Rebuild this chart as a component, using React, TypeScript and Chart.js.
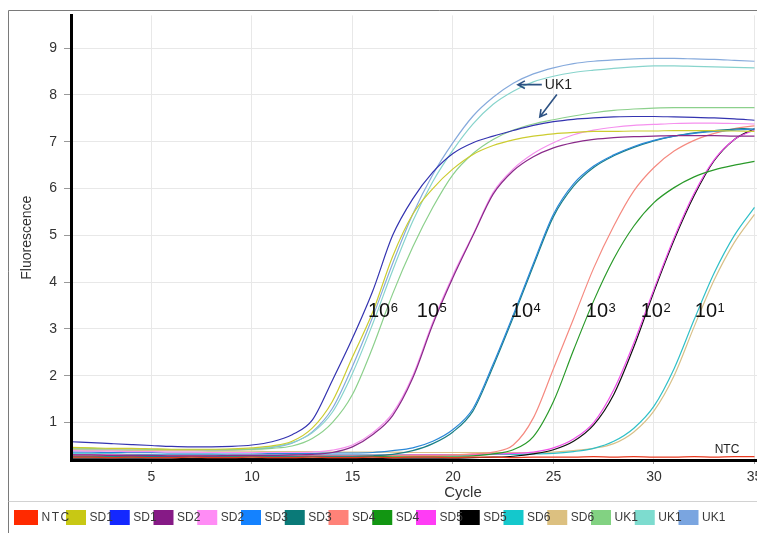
import React, { useEffect, useRef } from "react";
import { Chart, registerables } from "chart.js";

Chart.register(...registerables);
Chart.defaults.font.family = '"Liberation Sans", Arial, sans-serif';

// ---- data ----
const cycles = [1,2,3,4,5,6,7,8,9,10,11,12,13,14,15,16,17,18,19,20,21,22,23,24,25,26,27,28,29,30,31,32,33,34,35];

const ntc = [0.26,0.26,0.25,0.26,0.25,0.25,0.26,0.25,0.25,0.26,0.25,0.25,0.26,0.25,0.25,0.26,0.25,0.26,0.26,0.25,0.26,0.26,0.25,0.26,0.26,0.26,0.27,0.26,0.27,0.26,0.26,0.27,0.26,0.27,0.27];
const sd1Yellow = [0.47,0.46,0.45,0.45,0.44,0.43,0.43,0.43,0.44,0.46,0.5,0.6,0.88,1.45,2.4,3.35,4.55,5.45,6.0,6.42,6.73,6.92,7.04,7.12,7.17,7.2,7.22,7.22,7.23,7.23,7.24,7.24,7.24,7.23,7.22];
const sd1Blue = [0.59,0.57,0.55,0.53,0.51,0.49,0.48,0.48,0.49,0.52,0.59,0.74,1.05,1.9,2.8,3.8,5.0,5.78,6.35,6.75,6.98,7.12,7.24,7.35,7.43,7.48,7.51,7.53,7.54,7.54,7.53,7.52,7.51,7.49,7.46];
const sd2Purple = [0.31,0.31,0.3,0.3,0.3,0.29,0.29,0.29,0.3,0.3,0.3,0.31,0.32,0.36,0.48,0.74,1.15,1.95,3.1,4.1,5.0,5.88,6.38,6.68,6.87,6.98,7.05,7.09,7.11,7.12,7.13,7.13,7.13,7.12,7.12];
const sd2Pink = [0.4,0.39,0.39,0.38,0.38,0.37,0.37,0.36,0.36,0.36,0.36,0.36,0.37,0.41,0.52,0.78,1.2,2.0,3.15,4.15,5.02,5.92,6.42,6.75,6.98,7.15,7.25,7.31,7.35,7.37,7.39,7.4,7.4,7.39,7.38];
const sd3Azure = [0.37,0.37,0.36,0.36,0.36,0.35,0.35,0.35,0.35,0.35,0.34,0.34,0.34,0.35,0.35,0.36,0.4,0.46,0.6,0.85,1.3,2.25,3.3,4.4,5.45,6.1,6.48,6.72,6.9,7.03,7.12,7.18,7.22,7.25,7.27];
const sd3Teal = [0.28,0.28,0.28,0.27,0.27,0.27,0.27,0.28,0.28,0.28,0.28,0.28,0.28,0.28,0.28,0.29,0.32,0.4,0.55,0.8,1.25,2.2,3.25,4.35,5.4,6.05,6.45,6.7,6.88,7.02,7.12,7.19,7.24,7.27,7.3];
const sd4Salmon = [0.3,0.3,0.3,0.3,0.29,0.29,0.29,0.29,0.29,0.29,0.29,0.29,0.29,0.29,0.29,0.3,0.3,0.3,0.3,0.31,0.33,0.37,0.52,1.1,2.15,3.22,4.3,5.2,5.95,6.45,6.8,7.03,7.18,7.28,7.34];
const sd4Green = [0.28,0.28,0.28,0.28,0.28,0.27,0.27,0.27,0.27,0.27,0.27,0.27,0.27,0.27,0.27,0.27,0.28,0.28,0.28,0.28,0.29,0.33,0.42,0.7,1.45,2.55,3.6,4.5,5.2,5.7,6.02,6.25,6.4,6.5,6.58];
const sd5Magenta = [0.31,0.31,0.31,0.3,0.3,0.3,0.3,0.3,0.3,0.3,0.3,0.3,0.3,0.3,0.3,0.3,0.3,0.31,0.31,0.31,0.32,0.33,0.34,0.37,0.46,0.65,1.0,1.7,2.7,3.85,4.95,5.9,6.62,7.05,7.25];
const sd5Black = [0.24,0.24,0.24,0.24,0.24,0.24,0.23,0.23,0.23,0.23,0.23,0.23,0.23,0.23,0.23,0.23,0.24,0.24,0.24,0.24,0.25,0.26,0.28,0.33,0.42,0.6,0.95,1.6,2.62,3.8,4.9,5.85,6.6,7.05,7.28];
const sd6Cyan = [0.33,0.33,0.33,0.32,0.32,0.32,0.32,0.32,0.31,0.31,0.31,0.31,0.31,0.31,0.31,0.31,0.31,0.31,0.31,0.31,0.31,0.32,0.32,0.33,0.34,0.38,0.45,0.6,0.88,1.35,2.15,3.2,4.2,5.0,5.6];
const sd6Tan = [0.42,0.41,0.41,0.41,0.4,0.4,0.4,0.39,0.39,0.39,0.38,0.38,0.38,0.37,0.37,0.37,0.37,0.36,0.36,0.36,0.36,0.36,0.36,0.36,0.37,0.4,0.45,0.55,0.8,1.25,2.0,3.05,4.05,4.85,5.45];
const uk1Green = [0.46,0.45,0.44,0.44,0.43,0.42,0.42,0.42,0.42,0.43,0.45,0.5,0.66,1.0,1.6,2.6,3.75,4.75,5.6,6.3,6.75,7.05,7.25,7.38,7.47,7.55,7.62,7.67,7.7,7.72,7.73,7.73,7.73,7.73,7.73];
const uk1Teal = [0.44,0.43,0.43,0.42,0.42,0.41,0.41,0.41,0.42,0.44,0.48,0.57,0.78,1.22,2.05,3.1,4.25,5.3,6.15,6.82,7.38,7.8,8.08,8.28,8.4,8.48,8.53,8.57,8.6,8.62,8.62,8.61,8.6,8.59,8.58];
const uk1Blue = [0.43,0.42,0.42,0.41,0.41,0.4,0.4,0.4,0.41,0.43,0.47,0.56,0.8,1.3,2.2,3.25,4.4,5.45,6.3,6.98,7.55,7.95,8.25,8.45,8.58,8.67,8.72,8.75,8.77,8.78,8.78,8.77,8.76,8.74,8.72];

const seriesLabels = ["NTC","SD1","SD1","SD2","SD2","SD3","SD3","SD4","SD4","SD5","SD5","SD6","SD6","UK1","UK1","UK1"];
const seriesValues = [ntc, sd1Yellow, sd1Blue, sd2Purple, sd2Pink, sd3Azure, sd3Teal, sd4Salmon, sd4Green, sd5Magenta, sd5Black, sd6Cyan, sd6Tan, uk1Green, uk1Teal, uk1Blue];
// legend swatch colours
const seriesColors = ["#ff2a00","#c8c814","#1428ff","#861a86","#ff8cf5","#1482ff","#0a7a78","#ff8278","#129612","#ff3cf5","#000000","#14c8cc","#dcc080","#82d282","#7ddccf","#7aa5e0"];
// colours of the plotted curves (as they appear in the plot)
const lineColors = ["#e83a20","#cccc30","#3434b0","#8a2a8a","#f590ee","#2a88d8","#1a7f86","#f58a80","#2a9a2a","#f050ea","#101010","#30c0c8","#d8c088","#8cd08c","#88d4cc","#86aadc"];

const xTicks = [5,10,15,20,25,30,35,40];
const yTicks = [1,2,3,4,5,6,7,8,9];

// dilution annotations (data coordinates)
const expText = ["6","5","4","3","2","1"];
const expCycle = [15.77, 18.2, 22.88, 26.61, 29.34, 32.03];
const expLevel = 3.26;

// UK1 annotation
const uk1TextPos = [24.57, 8.22];
const uk1Arrows = [
  [24.42, 8.22, 23.23, 8.22],
  [25.17, 8.01, 24.32, 7.53],
];
const ntcTextPos = [33.02, 0.43];

const FONT = '"Liberation Sans", Arial, sans-serif';

const overlayPlugin = {
  id: "overlay",
  afterDraw(chart: any) {
    const { ctx } = chart;
    const xs = chart.scales.x;
    const ys = chart.scales.y;
    ctx.save();

    // outer frame
    ctx.strokeStyle = "#7a7a7a";
    ctx.lineWidth = 1;
    ctx.beginPath();
    ctx.moveTo(8.5, chart.height);
    ctx.lineTo(8.5, 10.5);
    ctx.lineTo(chart.width, 10.5);
    ctx.stroke();

    // legend separator
    ctx.strokeStyle = "#d2d2d2";
    ctx.beginPath();
    ctx.moveTo(8.5, 501.5);
    ctx.lineTo(chart.width, 501.5);
    ctx.stroke();

    // legend
    const ds = chart.data.datasets;
    for (let i = 0; i < ds.length; i++) {
      const bx = i === 0 ? 14 : 66 + 43.75 * (i - 1);
      const bw = i === 0 ? 24 : 20;
      ctx.fillStyle = ds[i].backgroundColor;
      ctx.fillRect(bx, 510, bw, 15);
    }
    ctx.font = `12px ${FONT}`;
    ctx.fillStyle = "#3a3a3a";
    ctx.textBaseline = "middle";
    ctx.textAlign = "left";
    for (let i = 0; i < ds.length; i++) {
      const bx = i === 0 ? 14 : 66 + 43.75 * (i - 1);
      const bw = i === 0 ? 24 : 20;
      if (i === 0) (ctx as any).letterSpacing = "1.5px";
      ctx.fillText(ds[i].label, bx + bw + 3.5, 517.5);
      if (i === 0) (ctx as any).letterSpacing = "0px";
    }

    // 10^n labels
    ctx.textBaseline = "alphabetic";
    ctx.fillStyle = "#111";
    for (let i = 0; i < expText.length; i++) {
      const px = xs.getPixelForValue(expCycle[i]);
      const py = ys.getPixelForValue(expLevel);
      ctx.font = `20px ${FONT}`;
      ctx.fillText("10", px, py);
      const w = ctx.measureText("10").width;
      ctx.font = `13px ${FONT}`;
      ctx.fillText(expText[i], px + w + 0.5, py - 5);
    }

    // UK1 text + arrows
    ctx.font = `14px ${FONT}`;
    ctx.fillStyle = "#222";
    ctx.textBaseline = "middle";
    ctx.fillText("UK1", xs.getPixelForValue(uk1TextPos[0]), ys.getPixelForValue(uk1TextPos[1]));
    ctx.strokeStyle = "#2d5283";
    ctx.lineWidth = 1.6;
    for (const a of uk1Arrows) {
      const x1 = xs.getPixelForValue(a[0]);
      const y1 = ys.getPixelForValue(a[1]);
      const x2 = xs.getPixelForValue(a[2]);
      const y2 = ys.getPixelForValue(a[3]);
      const ang = Math.atan2(y2 - y1, x2 - x1);
      ctx.beginPath();
      ctx.moveTo(x1, y1);
      ctx.lineTo(x2, y2);
      ctx.moveTo(x2 - 8 * Math.cos(ang - 0.5), y2 - 8 * Math.sin(ang - 0.5));
      ctx.lineTo(x2, y2);
      ctx.lineTo(x2 - 8 * Math.cos(ang + 0.5), y2 - 8 * Math.sin(ang + 0.5));
      ctx.stroke();
    }

    // NTC text
    ctx.font = `12px ${FONT}`;
    ctx.fillStyle = "#222";
    ctx.fillText("NTC", xs.getPixelForValue(ntcTextPos[0]), ys.getPixelForValue(ntcTextPos[1]));

    ctx.restore();
  },
};

export default function App() {
  const ref = useRef<HTMLCanvasElement>(null);
  useEffect(() => {
    const datasets = seriesValues.map((vals, i) => ({
      label: seriesLabels[i],
      data: vals.map((v, j) => ({ x: cycles[j], y: v })),
      borderColor: lineColors[i],
      backgroundColor: seriesColors[i],
      borderWidth: 1.2,
      pointRadius: 0,
      cubicInterpolationMode: "monotone" as const,
      fill: false,
    }));
    const chart = new Chart(ref.current!, {
      type: "line",
      data: { datasets },
      options: {
        animation: false,
        responsive: false,
        events: [],
        layout: { padding: { left: 0, top: 10, right: 15, bottom: 0 } },
        plugins: { legend: { display: false }, tooltip: { enabled: false } },
        scales: {
          x: {
            type: "linear",
            min: 1,
            max: 40,
            afterBuildTicks: (s: any) => { s.ticks = xTicks.map((v) => ({ value: v })); },
            afterFit: (s: any) => { s.height = 73; },
            grid: { color: "#e8e8e8", tickColor: "#999", tickLength: 4, lineWidth: 1 },
            border: { color: "#000", width: 3, z: 1 },
            ticks: { color: "#333", font: { size: 14 }, padding: 5, maxRotation: 0, autoSkip: false },
            title: { display: true, text: "Cycle", color: "#333", font: { size: 15 }, padding: { top: 0, bottom: 31 } },
          },
          y: {
            type: "linear",
            min: 0.2,
            max: 9.7,
            afterBuildTicks: (s: any) => { s.ticks = yTicks.map((v) => ({ value: v })); },
            afterFit: (s: any) => { s.width = 71; },
            grid: { color: "#e8e8e8", tickColor: "#999", tickLength: 7, lineWidth: 1 },
            border: { color: "#000", width: 3, z: 1 },
            ticks: { color: "#333", font: { size: 14 }, padding: 7 },
            title: { display: true, text: "Fluorescence", color: "#333", font: { size: 14 }, padding: { top: 19, bottom: 0 } },
          },
        },
      },
      plugins: [overlayPlugin],
    } as any);
    return () => chart.destroy();
  }, []);
  return (
    <div style={{ position: "fixed", left: 0, top: 0, width: 757, height: 533, overflow: "hidden", background: "#fff" }}>
      <canvas ref={ref} width={870} height={533} style={{ display: "block", width: 870, height: 533 }} />
    </div>
  );
}
